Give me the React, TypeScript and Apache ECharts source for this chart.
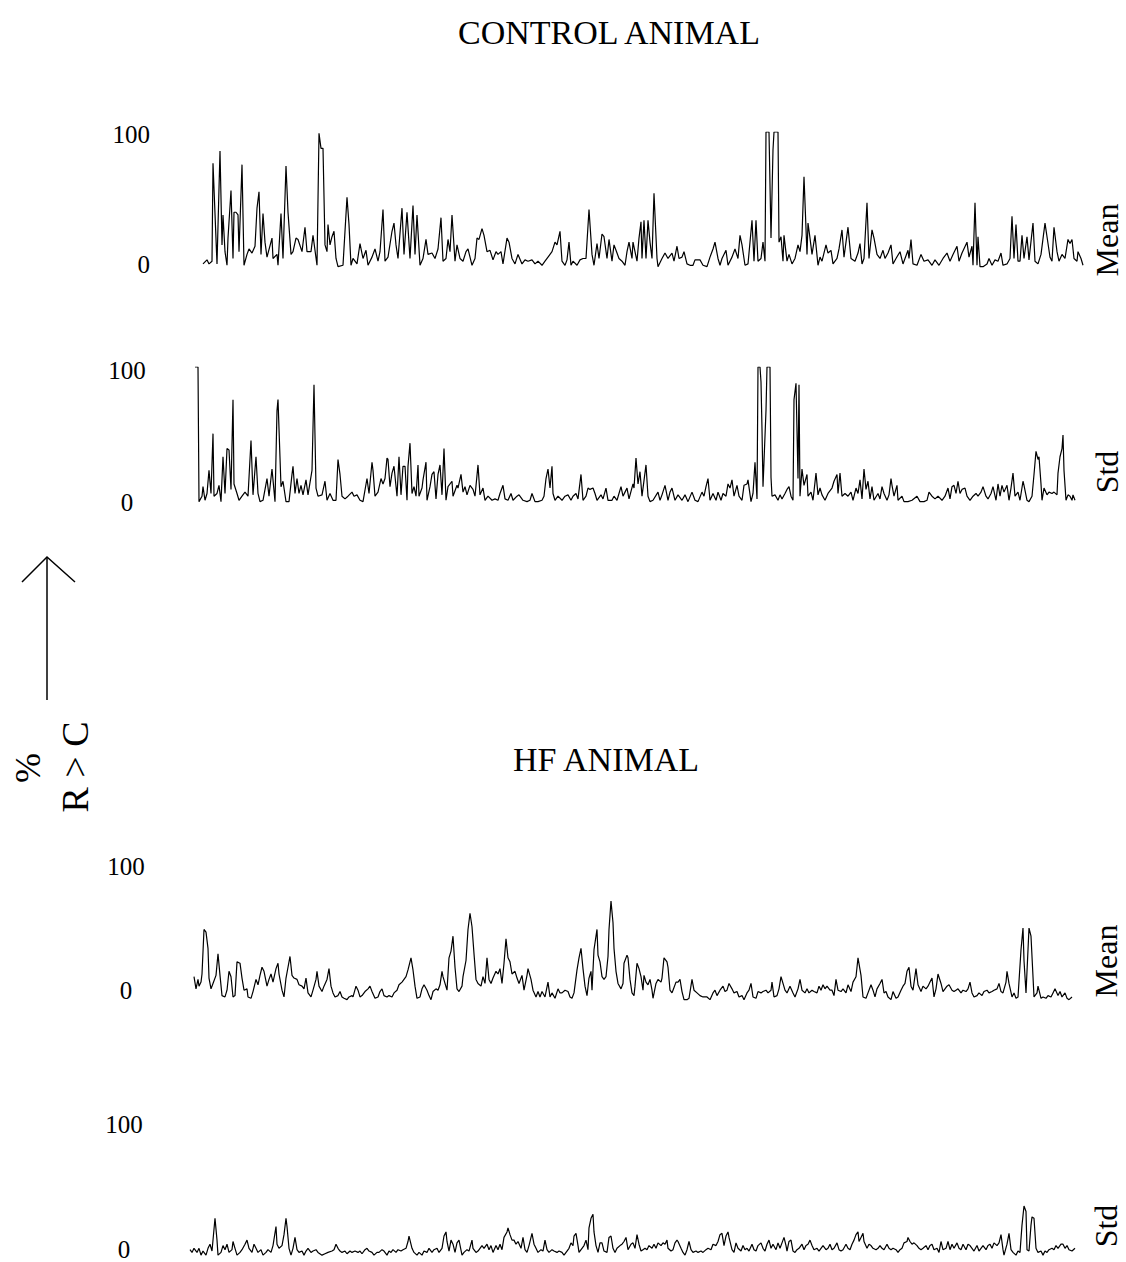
import React, { useEffect, useRef } from "react";
import * as echarts from "echarts";

// Sample position along the recording (x) and % R > C (y)
const controlMean: [number, number][] = [
  [0,3],[4,6],[6,3],[9,5],[10,77],[14,3],[17,86],[19,17],[20,39],[22,12],[24,2],[25,22],[28,57],[30,7],[31,41],[33,41],[35,39],[36,12],[39,76],[41,2],[44,10],[46,14],[49,11],[52,16],[54,44],[56,56],[58,10],[60,40],[62,19],[64,8],[69,22],[70,7],[74,10],[75,2],[78,40],[80,7],[83,75],[85,41],[88,10],[90,12],[93,22],[95,21],[99,12],[102,30],[104,12],[108,12],[110,24],[114,2],[116,99],[118,88],[120,88],[122,17],[124,12],[125,32],[127,17],[129,23],[131,27],[133,7],[135,1],[140,2],[144,52],[146,32],[148,2],[150,7],[154,3],[157,18],[160,7],[163,13],[165,2],[169,8],[172,14],[175,5],[177,12],[180,43],[182,5],[185,8],[189,27],[191,33],[193,17],[195,7],[199,44],[201,10],[204,41],[207,7],[210,46],[212,10],[214,39],[217,2],[220,7],[223,21],[225,10],[229,11],[232,7],[235,14],[238,37],[240,5],[243,7],[245,21],[247,12],[249,39],[252,5],[254,17],[257,7],[260,5],[263,12],[265,14],[269,2],[272,7],[274,22],[276,21],[279,29],[281,24],[284,12],[287,13],[290,6],[293,12],[295,10],[298,12],[300,3],[304,22],[306,19],[309,7],[312,3],[315,10],[319,3],[322,6],[325,5],[329,6],[332,3],[335,5],[339,2],[342,5],[345,8],[349,12],[352,19],[354,17],[357,27],[359,5],[362,2],[364,6],[366,19],[368,2],[370,5],[374,2],[377,6],[380,7],[383,7],[386,43],[389,10],[391,2],[394,18],[396,7],[399,25],[401,23],[404,7],[406,21],[409,5],[411,17],[414,11],[416,7],[419,5],[422,2],[424,12],[426,19],[429,7],[430,19],[434,5],[436,22],
  [438,34],[439,7],[441,35],[443,7],[445,35],[447,19],[449,7],[451,55],[454,7],[455,1],[459,7],[462,11],[465,7],[469,11],[471,5],[474,16],[476,7],[479,8],[481,12],[484,3],[487,2],[490,2],[492,6],[497,6],[500,2],[504,1],[507,8],[510,14],[512,19],[515,7],[517,2],[519,7],[523,13],[525,2],[529,8],[532,14],[535,7],[537,24],[539,17],[542,2],[545,3],[549,35],[551,5],[553,35],[555,5],[558,7],[560,19],[562,5],[563,100],[566,100],[568,22],[570,87],[571,100],[575,100],[576,19],[578,23],[580,5],[581,24],[584,5],[586,10],[589,3],[592,7],[595,17],[597,12],[599,24],[601,67],[604,10],[605,33],[607,22],[609,10],[612,24],[615,2],[617,8],[619,5],[623,17],[625,11],[628,13],[630,3],[634,7],[636,14],[639,28],[641,8],[645,30],[648,7],[652,5],[655,11],[657,18],[659,3],[661,7],[664,48],[666,7],[669,28],[671,22],[674,10],[677,7],[680,13],[682,7],[685,11],[688,17],[690,3],[693,7],[697,12],[700,3],[705,13],[706,7],[708,21],[710,3],[714,2],[718,10],[721,5],[725,6],[729,2],[732,6],[736,2],[740,7],[744,11],[747,5],[750,10],[754,16],[756,5],[759,11],[764,19],[766,8],[769,16],[770,2],[772,48],[774,2],[775,23],[777,1],[780,1],[784,3],[786,7],[789,2],[792,6],[795,5],[798,11],[800,2],[804,3],[807,7],[809,38],[811,7],[813,32],[815,5],[817,5],[819,24],[821,7],[824,23],[826,6],[830,33],[832,5],[835,3],[838,10],[842,33],[845,18],[847,8],[849,5],[851,30],[854,12],[856,5],[859,10],[862,7],[865,21],[867,18],[869,21],[871,7],[874,5],[875,12],[878,7],[880,2]
];

const controlStd: [number, number][] = [
  [0,100],[3,100],[4,1],[7,5],[8,12],[10,2],[12,7],[14,24],[16,7],[18,51],[19,5],[22,7],[24,13],[26,1],[28,34],[30,7],[32,40],[34,39],[36,10],[38,76],[39,14],[42,7],[44,2],[47,5],[50,8],[53,5],[56,46],[58,6],[61,34],[63,7],[65,1],[68,2],[72,18],[74,5],[77,25],[80,1],[82,68],[83,76],[86,12],[88,16],[91,1],[94,1],[97,21],[98,27],[100,7],[102,18],[104,7],[106,13],[108,6],[111,17],[113,6],[117,24],[119,87],[121,11],[123,5],[127,6],[130,16],[132,2],[135,7],[138,2],[141,2],[143,32],[145,21],[147,5],[150,3],[153,5],[157,8],[159,5],[162,6],[165,2],[168,1],[172,18],[174,7],[177,30],[178,24],[180,5],[183,8],[186,18],[188,14],[190,18],[192,33],[193,32],[195,12],[197,22],[199,27],[202,5],[204,34],[206,6],[208,27],[210,27],[212,2],[213,27],[215,44],[217,7],[219,12],[221,5],[223,28],[224,5],[227,11],[228,17],[231,30],[232,2],[235,12],[237,21],[239,23],[241,3],[243,21],[245,28],[247,6],[249,40],[251,2],[253,12],[257,16],[258,5],[262,13],[263,11],[266,21],[268,8],[270,12],[272,6],[275,13],[278,10],[280,5],[283,28],[285,6],[288,11],[290,2],[293,5],[297,2],[300,3],[303,2],[305,7],[308,13],[310,3],[313,2],[316,7],[318,2],[322,5],[324,6],[328,2],[332,1],[335,2],[337,7],[340,1],[343,1],[347,2],[349,5],[351,18],[353,25],[355,11],[357,27],[358,7],[360,2],[363,5],[367,2],[370,5],[373,6],[376,2],[378,5],[381,7],[383,3],[386,21],[388,2],[391,5],[393,11],[395,10],[398,11],[400,7],[402,2],[406,6],[408,3],[411,11],[413,2],[417,2],[419,5],[422,2],[426,12],[428,5],[430,8],[432,11],[434,3],[438,14],[439,11],[441,33],[443,14],
  [445,23],[447,5],[451,28],[453,5],[455,1],[458,2],[463,8],[465,2],[467,6],[470,13],[473,2],[475,8],[477,11],[480,2],[483,6],[487,2],[490,6],[493,1],[497,8],[500,2],[503,1],[507,8],[509,5],[511,12],[513,18],[515,2],[518,7],[521,2],[523,8],[526,2],[528,7],[531,5],[533,14],[535,11],[537,17],[539,5],[542,13],[544,5],[547,2],[549,13],[552,14],[553,17],[556,1],[558,7],[560,30],[562,3],[563,100],[565,100],[566,89],[567,54],[568,12],[571,68],[572,100],[575,100],[576,19],[577,5],[580,6],[583,2],[585,6],[587,3],[590,7],[592,10],[594,12],[596,5],[598,2],[599,76],[601,88],[603,18],[604,87],[605,5],[607,25],[609,13],[612,21],[613,5],[616,8],[618,2],[621,22],[623,6],[625,11],[627,6],[630,2],[633,7],[637,11],[639,16],[642,21],[643,7],[645,22],[647,5],[650,7],[653,5],[656,8],[658,2],[661,11],[663,7],[665,17],[667,3],[669,25],[671,10],[673,16],[675,3],[677,12],[679,2],[683,7],[685,3],[687,12],[689,7],[692,2],[694,6],[696,18],[697,13],[699,5],[702,13],[703,2],[707,5],[709,1],[713,1],[717,2],[722,5],[725,1],[729,1],[732,2],[734,8],[737,5],[740,3],[743,5],[747,2],[750,5],[753,11],[755,3],[757,12],[759,13],[761,7],[763,16],[765,7],[767,10],[770,11],[772,5],[775,2],[778,5],[781,7],[783,5],[786,8],[788,12],[791,5],[793,3],[796,7],[798,12],[801,2],[803,14],[805,5],[807,13],[809,8],[812,13],[814,2],[816,11],[818,22],[820,5],[823,8],[825,2],[828,16],[829,13],[832,2],[834,1],[837,5],[839,21],[841,38],[843,32],[844,34],[846,14],[847,2],[849,11],[852,6],[854,8],[857,7],[859,8],[862,6],[863,22],[865,34],[867,40],[868,50],[869,24],[871,2],[873,6],[875,5],[877,2],[878,6],[880,2]
];

const hfMean: [number, number][] = [
  [0,18],[2,9],[4,16],[5,11],[7,14],[8,20],[10,53],[12,51],[14,39],[15,17],[17,9],[19,13],[22,19],[24,35],[26,19],[28,4],[31,3],[33,8],[35,22],[37,18],[39,3],[41,4],[43,29],[46,28],[48,17],[50,8],[53,9],[54,3],[57,2],[59,7],[62,16],[64,12],[66,19],[68,25],[70,22],[73,11],[75,16],[77,20],[79,14],[82,24],[84,28],[85,20],[88,8],[90,3],[92,17],[94,25],[96,33],[98,19],[100,17],[103,16],[105,12],[108,11],[110,9],[112,17],[114,6],[117,3],[119,8],[122,16],[123,22],[125,11],[128,7],[130,11],[133,16],[135,24],[137,11],[139,6],[141,3],[144,4],[146,7],[148,3],[150,2],[153,1],[155,3],[158,4],[159,3],[162,11],[164,8],[166,3],[168,4],[171,7],[174,9],[176,11],[178,7],[181,2],[184,3],[186,7],[188,9],[190,4],[193,3],[195,4],[198,3],[200,6],[203,8],[205,12],[208,14],[210,16],[212,18],[214,23],[217,32],[219,23],[221,11],[223,2],[226,3],[228,9],[230,12],[233,8],[235,4],[237,1],[239,7],[242,9],[244,8],[246,12],[248,22],[249,18],[251,13],[253,8],[255,32],[257,37],[259,48],[261,25],[263,9],[265,7],[268,11],[269,18],[272,30],[274,53],[276,65],[278,55],[280,35],[282,16],[284,13],[287,11],[289,18],[291,13],[293,32],[295,16],[297,13],[299,17],[302,22],[304,20],[306,24],[308,13],[310,28],[312,46],[314,32],[316,29],[318,20],[321,22],[323,17],[325,13],[328,19],[330,8],[333,19],[334,24],[337,16],[339,8],[342,3],[344,7],[346,3],[348,7],[351,3],[354,14],[356,3],[358,6],[361,2],[364,9],[366,6],[368,6],[371,8],[374,7],[376,3],[378,2],[380,6],[383,23],[385,32],[387,39],[389,24],[391,11],[393,4],[395,17],[397,22],[398,8],[400,38],[403,53],[404,34],[406,29],[408,18],[410,16],[412,18],[414,33],[415,53],[417,74],[419,58],[420,39],[422,22],[424,13],[427,9],[429,13],[430,28],[433,34],[434,32],[436,16],[438,6],[440,4],
  [441,11],[443,28],[445,24],[447,18],[449,8],[450,19],[452,14],[454,12],[456,16],[458,8],[459,2],[462,13],[464,16],[467,14],[468,17],[470,32],[473,29],[474,25],[476,8],[478,6],[479,8],[482,14],[484,14],[486,16],[488,7],[490,1],[493,1],[495,2],[498,16],[500,8],[503,6],[506,4],[509,3],[513,3],[516,1],[519,6],[521,8],[523,4],[526,8],[529,11],[531,7],[533,8],[535,13],[538,9],[540,6],[543,7],[545,3],[548,4],[550,1],[553,6],[555,8],[557,13],[559,3],[562,2],[564,7],[567,6],[569,7],[572,8],[574,6],[577,8],[578,14],[580,3],[583,4],[585,9],[587,18],[589,13],[591,8],[593,6],[596,11],[599,6],[601,3],[604,9],[606,16],[608,8],[611,6],[613,9],[615,6],[618,8],[620,7],[623,6],[625,11],[627,8],[629,12],[631,9],[633,11],[636,8],[638,8],[640,4],[642,16],[644,8],[647,7],[649,9],[652,6],[654,12],[657,7],[659,14],[662,18],[664,32],[667,19],[669,3],[672,2],[674,6],[677,12],[679,8],[681,3],[683,9],[686,13],[688,16],[690,6],[692,7],[694,3],[697,1],[699,7],[702,2],[704,3],[707,8],[709,11],[711,13],[713,22],[715,25],[717,11],[719,8],[722,24],[724,12],[727,7],[729,11],[732,9],[734,11],[736,14],[738,17],[740,3],[742,9],[744,20],[747,13],[749,7],[751,9],[753,11],[755,12],[758,8],[760,7],[762,8],[764,9],[767,6],[769,8],[772,7],[774,9],[776,14],[778,6],[780,3],[783,4],[785,6],[788,4],[790,7],[793,8],[795,6],[798,7],[800,8],[803,9],[805,13],[807,7],[809,6],[812,14],[813,22],[815,13],[818,3],[820,6],[822,2],[824,3],[827,38],[829,54],[830,30],[832,6],[834,38],[835,54],[837,48],[839,18],[840,3],[843,6],[844,11],[847,2],[849,3],[852,2],[854,4],[857,3],[859,6],[861,9],[864,4],[866,7],[868,3],[871,6],[873,2],[875,1],[878,3]
];

const hfStd: [number, number][] = [
  [0,5],[2,3],[4,6],[7,3],[9,6],[11,1],[13,4],[16,1],[18,6],[20,9],[22,4],[25,28],[27,12],[28,1],[31,3],[33,8],[35,5],[37,9],[39,3],[42,5],[43,11],[45,6],[47,1],[50,3],[52,5],[55,9],[57,12],[59,6],[62,3],[64,9],[66,6],[68,3],[71,5],[73,1],[76,3],[78,5],[81,3],[83,8],[86,22],[87,9],[89,6],[92,8],[94,16],[96,28],[97,22],[99,6],[101,1],[103,6],[105,14],[107,5],[109,3],[112,4],[114,1],[116,4],[118,6],[121,3],[123,4],[126,5],[128,3],[132,1],[135,2],[138,3],[142,4],[144,5],[146,9],[148,6],[150,4],[152,3],[155,4],[157,2],[160,4],[162,3],[165,4],[168,3],[170,4],[172,2],[175,5],[177,6],[179,4],[182,3],[184,1],[187,3],[189,3],[192,5],[194,4],[197,1],[199,4],[201,3],[203,5],[206,3],[208,5],[211,4],[213,5],[216,6],[218,11],[219,15],[222,6],[224,3],[227,1],[229,3],[232,1],[234,4],[237,3],[239,6],[242,3],[244,5],[247,6],[249,3],[252,6],[254,15],[256,18],[257,11],[259,4],[261,12],[263,9],[265,3],[267,10],[269,12],[272,1],[274,3],[277,5],[279,4],[282,12],[283,6],[286,3],[288,4],[290,6],[292,8],[294,6],[297,9],[299,5],[301,8],[303,3],[306,8],[308,5],[310,9],[312,5],[314,14],[317,18],[318,21],[320,16],[322,12],[324,12],[326,9],[328,11],[331,6],[333,14],[335,5],[337,3],[339,8],[342,17],[344,9],[346,6],[348,3],[351,5],[353,4],[355,12],[357,5],[359,3],[362,5],[364,4],[367,3],[369,4],[372,3],[374,1],[377,4],[379,6],[381,10],[383,8],[384,15],[386,17],[388,8],[389,3],[392,6],[394,8],[396,12],[398,5],[399,21],[401,28],[403,31],[404,18],[406,8],[408,3],[410,10],[412,10],[414,4],[417,3],[419,14],[421,15],[423,6],[425,3],[427,6],[430,8],[432,9],[434,11],[436,14],[438,5],[441,9],[443,10],
  [445,6],[447,16],[449,9],[451,4],[453,5],[455,6],[457,5],[459,8],[462,6],[464,9],[466,6],[468,10],[471,8],[473,10],[475,9],[477,12],[478,6],[481,4],[483,5],[485,10],[487,12],[488,11],[491,6],[493,3],[495,1],[497,5],[499,11],[501,5],[503,3],[506,4],[508,3],[511,4],[513,3],[516,5],[518,6],[521,5],[523,9],[526,8],[528,11],[530,16],[532,17],[534,8],[536,15],[538,18],[539,14],[542,5],[544,3],[546,10],[548,6],[551,4],[553,8],[555,5],[557,6],[559,4],[562,9],[564,5],[566,4],[568,8],[571,10],[573,6],[575,4],[577,9],[579,12],[581,6],[583,9],[586,5],[588,10],[590,6],[592,10],[594,14],[596,8],[597,4],[599,11],[601,12],[603,4],[605,3],[607,5],[609,6],[612,9],[614,5],[616,8],[618,9],[620,12],[622,8],[624,5],[627,6],[629,4],[631,6],[633,8],[636,5],[638,6],[640,9],[642,5],[644,6],[647,10],[649,5],[651,4],[653,5],[656,9],[658,6],[660,5],[662,9],[664,12],[666,16],[668,18],[669,11],[671,14],[673,17],[674,11],[677,6],[679,9],[681,8],[683,6],[686,5],[688,6],[690,8],[692,6],[694,5],[697,9],[699,6],[701,5],[703,6],[706,5],[708,3],[710,5],[712,6],[714,10],[717,11],[718,14],[720,11],[722,9],[724,10],[727,8],[729,6],[731,5],[733,6],[736,8],[738,5],[740,8],[742,9],[744,5],[747,6],[749,3],[751,11],[753,5],[756,6],[758,11],[760,5],[762,9],[764,6],[767,10],[769,6],[771,5],[773,9],[776,5],[778,9],[780,8],[782,6],[784,4],[787,8],[789,4],[791,6],[793,8],[796,5],[798,8],[800,9],[802,6],[804,10],[807,8],[809,10],[811,16],[813,5],[814,1],[817,9],[819,17],[821,5],[823,3],[826,1],[828,4],[830,3],[832,23],[834,37],[836,33],[837,5],[839,4],[841,23],[842,29],[844,28],[846,6],[848,3],[851,4],[853,1],[855,4],[857,3],[859,5],[862,6],[864,5],[866,8],[868,6],[871,9],[873,9],[875,6],[877,8],[879,5],[882,4],[885,6]
];

const yTicks = [0, 100];
const panelSides = ["Mean", "Std", "Mean", "Std"];
const groupTitles = ["CONTROL ANIMAL", "HF ANIMAL"];
const axisTitle = ["%", "R > C"];

const FONT = '"Liberation Serif", "Times New Roman", Times, serif';

export default function App() {
  const ref = useRef<HTMLDivElement>(null);
  useEffect(() => {
    if (!ref.current) return;
    const chart = echarts.init(ref.current, null, { renderer: "svg" });
    const seriesData = [controlMean, controlStd, hfMean, hfStd];
    const layout = [
      { left: 203, top: 132, height: 136, margin: 53, align: "right", pad100: [4, 0, 0, 0], pad0: [0, 0, 8, 0] },
      { left: 195, top: 367, height: 136, margin: 68, align: "center", pad100: [6, 0, 0, 0], pad0: [0, 0, 2, 0] },
      { left: 194, top: 866, height: 135, margin: 68, align: "center", pad100: [0, 0, 0, 0], pad0: [0, 0, 22, 0] },
      { left: 190, top: 1120, height: 137, margin: 66, align: "center", pad100: [8, 0, 0, 0], pad0: [0, 0, 14, 0] },
    ];
    const sideLabelPos = [
      { x: 1107, y: 240 },
      { x: 1107, y: 472 },
      { x: 1106, y: 961 },
      { x: 1106, y: 1226 },
    ];
    const textStyle = (text: string, size: number) => ({
      text, font: `${size}px ${FONT}`, fontSize: size, fontFamily: FONT, lineHeight: size,
      fill: "#000", textAlign: "center", textVerticalAlign: "middle", align: "center", verticalAlign: "middle",
    });
    const option: any = {
      animation: false,
      backgroundColor: "#ffffff",
      grid: layout.map((l) => ({ left: l.left, top: l.top, width: 885, height: l.height, containLabel: false })),
      xAxis: layout.map((_, i) => ({
        type: "value", gridIndex: i, min: 0, max: 885, show: false,
      })),
      yAxis: layout.map((l, i) => ({
        type: "value", gridIndex: i, min: yTicks[0], max: yTicks[1], interval: 100,
        axisLine: { show: false }, axisTick: { show: false }, splitLine: { show: false },
        axisLabel: {
          margin: l.margin, align: l.align, color: "#000", fontFamily: FONT, fontSize: 25,
          formatter: (v: number) => `{t${v}|${v}}`,
          rich: {
            t0: { fontFamily: FONT, fontSize: 25, color: "#000", padding: l.pad0 },
            t100: { fontFamily: FONT, fontSize: 25, color: "#000", padding: l.pad100 },
          },
        },
      })),
      series: seriesData.map((d, i) => ({
        type: "line", xAxisIndex: i, yAxisIndex: i, data: d,
        showSymbol: false, symbol: "none", silent: true,
        lineStyle: { color: "#000", width: 1.2 },
      })),
      graphic: [
        { type: "text", x: 609, y: 32, style: textStyle(groupTitles[0], 34) },
        { type: "text", x: 606, y: 759, style: textStyle(groupTitles[1], 34) },
        ...panelSides.map((s, i) => ({
          type: "text", x: sideLabelPos[i].x, y: sideLabelPos[i].y, rotation: Math.PI / 2,
          style: textStyle(s, 32),
        })),
        { type: "text", x: 28, y: 768, rotation: Math.PI / 2, style: textStyle(axisTitle[0], 36) },
        { type: "text", x: 75, y: 767, rotation: Math.PI / 2, style: textStyle(axisTitle[1], 38) },
        { type: "line", shape: { x1: 47, y1: 557, x2: 47, y2: 700 }, style: { stroke: "#000", lineWidth: 1.5 } },
        { type: "polyline", shape: { points: [[22, 582], [47, 557], [75, 582]] }, style: { stroke: "#000", fill: null, lineWidth: 1.5 } },
      ],
    };
    chart.setOption(option);
    return () => chart.dispose();
  }, []);
  return (
    <div
      ref={ref}
      style={{ position: "fixed", left: 0, top: 0, width: 1126, height: 1262, background: "#fff" }}
    />
  );
}
